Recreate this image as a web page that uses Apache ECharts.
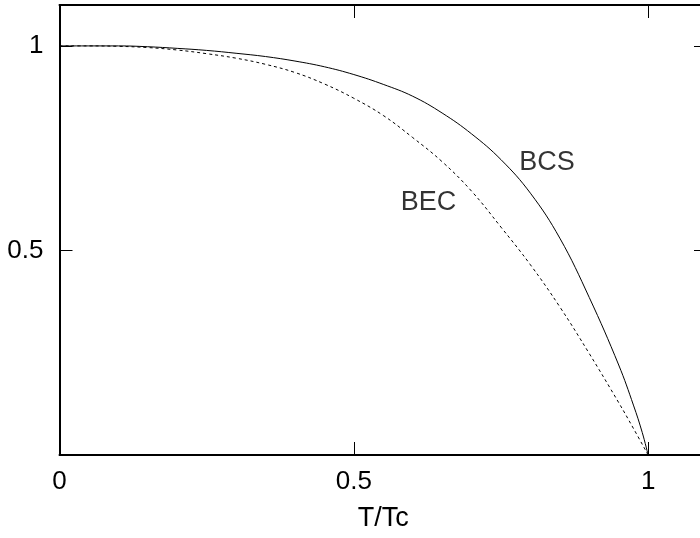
<!DOCTYPE html>
<html>
<head>
<meta charset="utf-8">
<script src="https://cdn.jsdelivr.net/npm/echarts@6/dist/echarts.min.js"></script>
<style>
  html, body { margin: 0; padding: 0; background: #fff; }
  #main { width: 700px; height: 538px; }
</style>
</head>
<body>
<div id="main"></div>
<script>
// T/Tc values and the two curves
var bcsT   = [0, 0.05, 0.1, 0.15, 0.2, 0.25, 0.3, 0.35, 0.4, 0.45, 0.5, 0.55, 0.6, 0.65, 0.7, 0.75, 0.8, 0.85, 0.9, 0.95, 0.975, 0.99, 1];
var bcsVal = [1, 1, 1, 0.998, 0.994, 0.989, 0.982, 0.974, 0.963, 0.949, 0.93, 0.906, 0.877, 0.836, 0.785, 0.722, 0.64, 0.53, 0.385, 0.22, 0.122, 0.055, 0];

var becT   = [0, 0.05, 0.1, 0.15, 0.2, 0.25, 0.3, 0.35, 0.4, 0.45, 0.5, 0.55, 0.6, 0.65, 0.7, 0.75, 0.8, 0.85, 0.9, 0.95, 0.975, 1];
var becVal = [1, 1, 0.999, 0.996, 0.99, 0.981, 0.97, 0.955, 0.935, 0.907, 0.872, 0.83, 0.776, 0.717, 0.645, 0.557, 0.465, 0.362, 0.248, 0.128, 0.065, 0];

// curve labels
var labelNames = ['BCS', 'BEC'];
var labelPos = [[0.828, 0.716], [0.627, 0.616]];

var xTicks = [0, 0.5, 1];
var yTicks = [0.5, 1];

function zip(a, b) {
    var out = [];
    for (var i = 0; i < a.length; i++) out.push([a[i], b[i]]);
    return out;
}

var chart = echarts.init(document.getElementById('main'));

var font = 'Liberation Sans';
var tickTxt = { color: '#000', fontFamily: font, fontSize: 26 };
var bigTxt = { color: '#000', fontFamily: font, fontSize: 27 };

var axisBase = {
    type: 'value',
    min: 0,
    max: 1.1,
    interval: 0.5,
    splitLine: { show: false },
    axisLine: { show: true, onZero: false, lineStyle: { color: '#000', width: 2 } },
    axisTick: { show: true, inside: true, length: 13, lineStyle: { color: '#000', width: 1 } }
};

var option = {
    animation: false,
    backgroundColor: '#fff',
    grid: { left: 59.5, right: -7, top: 5, bottom: 83, containLabel: false, outerBoundsMode: 'none' },
    xAxis: [
        Object.assign({}, axisBase, {
            position: 'bottom',
            name: 'T/Tc',
            nameLocation: 'middle',
            nameGap: 50,
            nameTextStyle: bigTxt,
            axisLabel: Object.assign({ margin: 14, formatter: function (v) {
                return xTicks.indexOf(v) >= 0 ? String(v) : '';
            } }, tickTxt)
        }),
        Object.assign({}, axisBase, { position: 'top', axisLabel: { show: false } })
    ],
    yAxis: [
        Object.assign({}, axisBase, {
            position: 'left',
            axisLabel: Object.assign({ margin: 16, formatter: function (v) {
                return yTicks.indexOf(v) >= 0 ? String(v) : '';
            } }, tickTxt)
        }),
        Object.assign({}, axisBase, { position: 'right', axisLabel: { show: false } })
    ],
    series: [
        {
            name: 'BCS',
            type: 'line',
            data: zip(bcsT, bcsVal),
            smooth: 0.4,
            showSymbol: false,
            lineStyle: { color: '#000', width: 1 }
        },
        {
            name: 'BEC',
            type: 'line',
            data: zip(becT, becVal),
            smooth: 0.4,
            showSymbol: false,
            lineStyle: { color: '#000', width: 1, type: [3, 3] }
        },
        {
            type: 'scatter',
            symbolSize: 0,
            data: labelPos.map(function (p, i) { return { value: p, name: labelNames[i] }; }),
            label: Object.assign({ show: true, position: 'inside', formatter: '{b}' }, bigTxt)
        }
    ]
};

chart.setOption(option);
</script>
</body>
</html>
